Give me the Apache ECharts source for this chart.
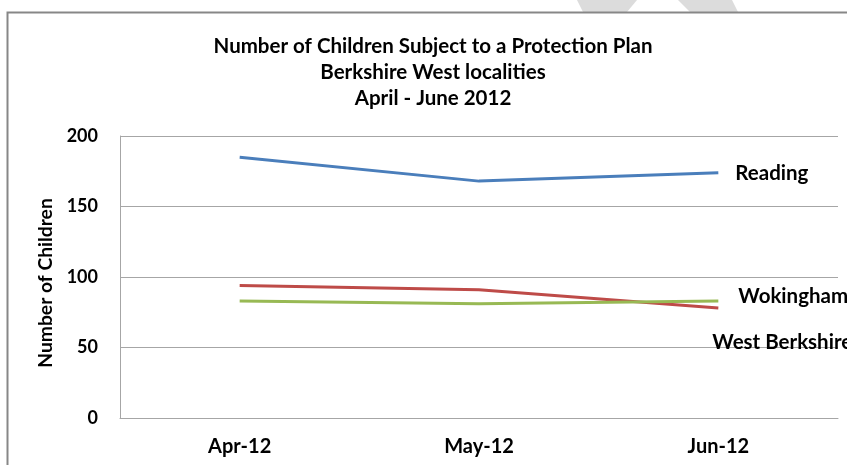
<!DOCTYPE html>
<html>
<head>
<meta charset="utf-8">
<script src="https://cdn.jsdelivr.net/npm/echarts@6/dist/echarts.min.js"></script>
<style>
  html, body { margin: 0; padding: 0; background: #fff; }
  #chart { width: 847px; height: 465px; }
</style>
</head>
<body>
<div id="chart"></div>
<script>
// Monthly counts of children on a protection plan, by locality
const months = ['Apr-12', 'May-12', 'Jun-12'];
const reading = [185, 168, 174];
const westBerkshire = [94, 91, 78];
const wokingham = [83, 81, 83];
const yTicks = { min: 0, max: 200, interval: 50 };

const FONT = 'Lato';
const GRID_GREY = '#a6a6a6';

const chart = echarts.init(document.getElementById('chart'), null, { renderer: 'canvas' });

function lineSeries(name, data, color, labelOffset) {
  return {
    name: name,
    type: 'line',
    data: data,
    symbol: 'none',
    smooth: false,
    lineStyle: { color: color, width: 3 },
    itemStyle: { color: color },
    emphasis: { disabled: true },
    endLabel: {
      show: true,
      formatter: name,
      distance: 0,
      offset: labelOffset,
      color: '#000',
      fontFamily: FONT,
      fontWeight: 'bold',
      fontSize: 20.5
    }
  };
}

chart.setOption({
  animation: false,
  backgroundColor: '#fff',
  title: {
    text: 'Number of Children Subject to a Protection Plan\nBerkshire West localities\nApril - June 2012',
    left: 428,
    top: 28,
    textAlign: 'center',
    textStyle: {
      fontFamily: FONT,
      fontWeight: 'bold',
      fontSize: 20.5,
      lineHeight: 26,
      color: '#000'
    }
  },
  grid: { left: 120, top: 136, width: 718, height: 282, containLabel: false },
  xAxis: {
    type: 'category',
    data: months,
    boundaryGap: true,
    axisLine: { show: true, lineStyle: { color: GRID_GREY, width: 1 } },
    axisTick: { show: false },
    splitLine: { show: false },
    axisLabel: {
      margin: 19,
      color: '#000',
      fontFamily: FONT,
      fontWeight: 'bold',
      fontSize: 20
    }
  },
  yAxis: {
    type: 'value',
    min: yTicks.min,
    max: yTicks.max,
    interval: yTicks.interval,
    name: 'Number of Children',
    nameLocation: 'middle',
    nameRotate: 90,
    nameGap: 65,
    nameTextStyle: {
      color: '#000',
      fontFamily: FONT,
      fontWeight: 'bold',
      fontSize: 19.3,
      padding: [0, 12, 0, 0]
    },
    axisLine: { show: true, lineStyle: { color: GRID_GREY, width: 1 } },
    axisTick: { show: false },
    splitLine: { show: true, lineStyle: { color: GRID_GREY, width: 1 } },
    axisLabel: {
      margin: 22,
      color: '#000',
      fontFamily: FONT,
      fontWeight: 'bold',
      fontSize: 18
    }
  },
  graphic: [
    // faint diagonal strokes peeking above the frame
    {
      type: 'polygon',
      z: -10,
      shape: { points: [[577, 0], [637, 0], [627, 12], [583, 12]] },
      style: { fill: '#dcdcdc' }
    },
    {
      type: 'polygon',
      z: -10,
      shape: { points: [[678, 0], [732, 0], [738, 12], [690, 12]] },
      style: { fill: '#dcdcdc' }
    },
    // outer chart frame
    {
      type: 'rect',
      z: -5,
      shape: { x: 7.5, y: 12.5, width: 900, height: 500 },
      style: { fill: null, stroke: '#878787', lineWidth: 2 }
    }
  ],
  series: [
    lineSeries('Reading', reading, '#4a7ebb', [17, 1]),
    lineSeries('West Berkshire', westBerkshire, '#be4b48', [-6, 34]),
    lineSeries('Wokingham', wokingham, '#98b954', [20, -5])
  ]
});
</script>
</body>
</html>
